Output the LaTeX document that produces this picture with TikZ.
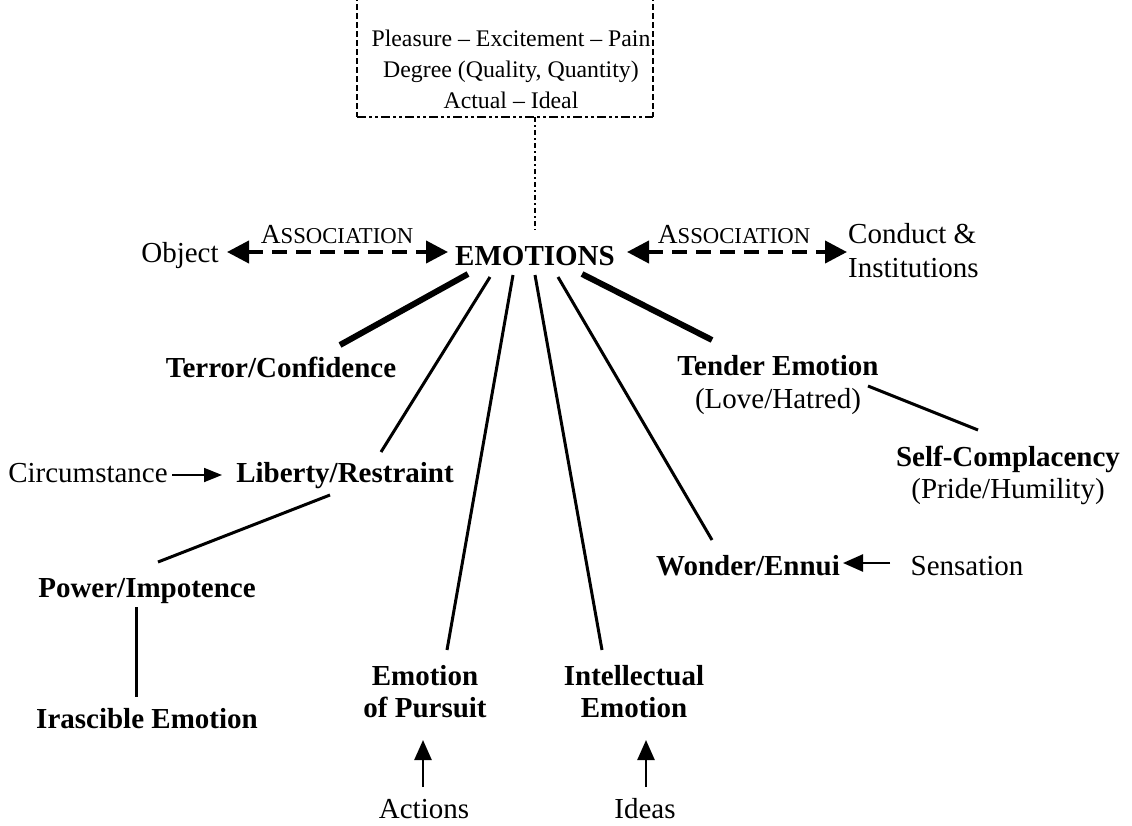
\documentclass[tikz,border=0pt]{standalone}
\usepackage{fontspec}
\setmainfont{Liberation Serif}
\usetikzlibrary{arrows.meta,calc}
\newcommand\assocword{{\fontsize{27.5}{30}\selectfont A}{\fontsize{22.7}{30}\selectfont SSOCIATION}}
\begin{document}
\begin{tikzpicture}[x=1pt,y=-1pt,
  lbl/.style={inner sep=0pt, anchor=base, font=\fontsize{29}{33}\selectfont},
  lblbf/.style={inner sep=0pt, anchor=base, font=\fontsize{29}{33}\selectfont\bfseries},
  boxtxt/.style={inner sep=0pt, anchor=base, font=\fontsize{23.8}{28}\selectfont},
  heavyspoke/.style={line width=6pt},
  spoke/.style={line width=3pt},
  assocarrow/.style={line width=4pt, dash pattern=on 15pt off 9pt,
    {Triangle[length=22pt,width=22pt]}-{Triangle[length=22pt,width=22pt]}},
  feed/.style={line width=2.5pt, -{Triangle[length=20pt,width=17pt]}},
  smallfeed/.style={line width=1.8pt, -{Triangle[length=18pt,width=14pt]}},
  boxside/.style={line width=2.5pt, dash pattern=on 6pt off 3pt},
  boxbottom/.style={line width=2.5pt, dash pattern=on 9pt off 3pt on 3pt off 3pt on 3pt off 3pt},
  dashdot/.style={line width=2pt, dash pattern=on 5pt off 3pt on 2pt off 3pt},
]
\useasboundingbox (0,0) rectangle (1132,825);

% dimension box at the top (open upwards)
\draw[boxside] (357,-5) -- (357,117);
\draw[boxside] (653,-5) -- (653,117);
\draw[boxbottom] (357,117) -- (653,117);
\coordinate (boxbot) at (535,117);
\node[boxtxt] (dimA) at (511,46) {Pleasure – Excitement – Pain};
\node[boxtxt] (dimB) at (511,77) {Degree (Quality, Quantity)};
\node[boxtxt] (dimC) at (511,108) {Actual – Ideal};

% centre row
\node[lblbf] (emo) at (535,265) {EMOTIONS};
\node[lbl] (object) at (180,262) {Object};
\node[lbl, anchor=base west] (conductA) at (848,243) {Conduct \&};
\node[lbl, anchor=base west] (conductB) at (848,277) {Institutions};
\node[inner sep=0pt, anchor=base] (assocL) at (337,243) {\assocword};
\node[inner sep=0pt, anchor=base] (assocR) at (734,243) {\assocword};

\draw[dashdot] (boxbot) -- ($(emo.base)+(0,-35)$);
\draw[assocarrow] ($(object.base)+(47,-10)$) -- ($(emo.base)+(-87,-13)$);
\draw[assocarrow] ($(emo.base)+(92,-13)$) -- ($(conductA.base west)+(-1,9)$);

% the kinds of emotion
\node[lblbf] (terror) at (281,377) {Terror/Confidence};
\node[lblbf] (tender) at (778,375) {Tender Emotion};
\node[lbl] (loveh) at (778,408) {(Love/Hatred)};
\node[lblbf] (selfc) at (1008,466) {Self-Complacency};
\node[lbl] (pride) at (1008,498) {(Pride/Humility)};
\node[lbl] (circ) at (88,482) {Circumstance};
\node[lblbf] (liberty) at (345,482) {Liberty/Restraint};
\node[lblbf] (power) at (147,597) {Power/Impotence};
\node[lblbf] (irasc) at (147,728) {Irascible Emotion};
\node[lblbf] (pursuitA) at (425,685) {Emotion};
\node[lblbf] (pursuitB) at (425,717) {of Pursuit};
\node[lblbf] (intellA) at (634,685) {Intellectual};
\node[lblbf] (intellB) at (634,717) {Emotion};
\node[lbl] (actions) at (424,818) {Actions};
\node[lbl] (ideas) at (645,818) {Ideas};
\node[lblbf] (wonder) at (748,575) {Wonder/Ennui};
\node[lbl] (sens) at (967,575) {Sensation};

% spokes from EMOTIONS
\draw[heavyspoke] ($(emo.base)+(-67,9)$) -- ($(terror.base)+(59,-32)$);
\draw[spoke] ($(emo.base)+(-45,12)$) -- ($(liberty.base)+(36,-30)$);
\draw[spoke] ($(emo.base)+(-22,10)$) -- ($(pursuitA.base)+(22,-35)$);
\draw[spoke] ($(emo.base)+(0,10)$) -- ($(intellA.base)+(-32,-35)$);
\draw[spoke] ($(emo.base)+(23,12)$) -- ($(wonder.base)+(-36,-35)$);
\draw[heavyspoke] ($(emo.base)+(47,9)$) -- ($(tender.base)+(-66,-35)$);

% secondary links
\draw[spoke] ($(loveh.base)+(90,-22)$) -- ($(selfc.base)+(-30,-36)$);
\draw[spoke] ($(liberty.base)+(-15,13)$) -- ($(power.base)+(11,-35)$);
\draw[spoke] ($(power.base)+(-11,10)$) -- ($(irasc.base)+(-11,-31)$);

% feeding arrows
\draw[smallfeed] ($(circ.base)+(84,-7)$) -- ($(liberty.base)+(-123,-7)$);
\draw[feed] ($(actions.base)+(-1,-31)$) -- ($(pursuitB.base)+(-2,23)$);
\draw[feed] ($(ideas.base)+(1,-31)$) -- ($(intellB.base)+(12,23)$);
\draw[feed] ($(sens.base)+(-77,-12)$) -- ($(wonder.base)+(95,-12)$);
\end{tikzpicture}
\end{document}
